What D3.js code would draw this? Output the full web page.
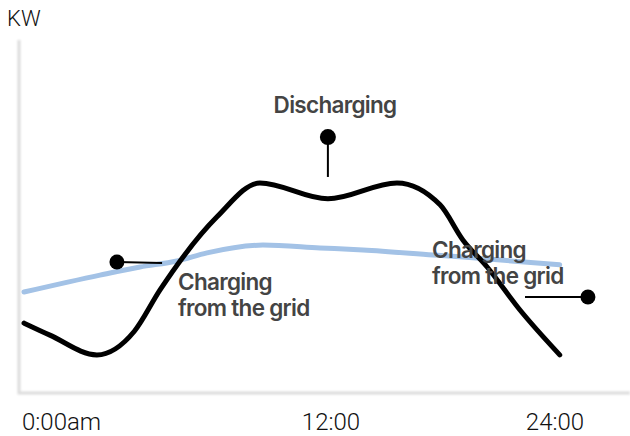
<!DOCTYPE html>
<html>
<head>
<meta charset="utf-8">
<script src="https://cdn.jsdelivr.net/npm/d3@7"></script>
<style>
  body { margin: 0; background: #fff; }
</style>
</head>
<body>
<div id="chart"></div>
<script>
// data (hours, kW)
const blackHours = [0, 1.01, 2.84, 4.3, 5.3, 7.52, 9.19, 11.84, 15.48, 17.79, 19.02, 20.31, 22.07, 24.2];
const blackValues = [1.98, 1.64, 1.08, 1.75, 2.92, 4.99, 5.95, 5.5, 5.95, 5.33, 4.33, 3.57, 2.35, 1.08];
const blueHours = [0, 2.96, 4.52, 5.96, 7.13, 9.31, 11.53, 13.66, 17.41, 19.02, 24.2];
const blueValues = [2.86, 3.34, 3.57, 3.74, 3.97, 4.19, 4.11, 4.05, 3.91, 3.85, 3.63];
const tickHours = [0, 12, 24];
const tickLabels = ["0:00am", "12:00", "24:00"];

// annotations: dot position, line end
const annoHours = [3.62, 11.84, 25.71];
const annoValues = [3.71, 7.25, 2.72];
const annoEndHours = [5.38, 11.84, 22.34];
const annoEndValues = [3.68, 6.12, 2.72];

const width = 630, height = 436;

const svg = d3.select("#chart")
  .append("svg")
    .attr("width", width)
    .attr("height", height);

const x = d3.scaleLinear()
  .domain([0, 12, 24])
  .range([24, 332, 556]);

const y = d3.scaleLinear()
  .domain([0, 10])
  .range([393, 40]);

// soft grey axes
const defs = svg.append("defs");
defs.append("filter")
    .attr("id", "soft")
  .append("feGaussianBlur")
    .attr("stdDeviation", 1.2);

svg.append("path")
    .attr("d", `M19,${y(10)}V${y(0)}H630`)
    .attr("fill", "none")
    .attr("stroke", "#dcdcdc")
    .attr("stroke-width", 3)
    .attr("filter", "url(#soft)");

// tick labels
svg.selectAll(".tick")
  .data(tickHours)
  .enter()
  .append("text")
    .attr("class", "tick")
    .attr("x", (d, i) => i === 0 ? x(d) - 2 : x(d) - 1)
    .attr("y", 430)
    .attr("text-anchor", (d, i) => i === 0 ? "start" : "middle")
    .attr("font-family", "Roboto")
    .attr("font-weight", 300)
    .attr("font-size", "24px")
    .attr("fill", "#111")
    .text((d, i) => tickLabels[i]);

svg.append("text")
    .attr("x", 7)
    .attr("y", 26)
    .attr("font-family", "Roboto")
    .attr("font-weight", 300)
    .attr("font-size", "22px")
    .attr("fill", "#111")
    .text("KW");

const line = d3.line()
  .x(d => x(d[0]))
  .y(d => y(d[1]))
  .curve(d3.curveMonotoneX);

svg.append("path")
    .datum(blueHours.map((h, i) => [h, blueValues[i]]))
    .attr("d", line)
    .attr("fill", "none")
    .attr("stroke", "#a3c2e6")
    .attr("stroke-width", 5)
    .attr("stroke-linecap", "round");

svg.append("path")
    .datum(blackHours.map((h, i) => [h, blackValues[i]]))
    .attr("d", line)
    .attr("fill", "none")
    .attr("stroke", "#000")
    .attr("stroke-width", 5)
    .attr("stroke-linecap", "round");

// annotation lines and dots
svg.selectAll(".anno-line")
  .data(annoHours)
  .enter()
  .append("line")
    .attr("x1", d => x(d))
    .attr("y1", (d, i) => y(annoValues[i]))
    .attr("x2", (d, i) => x(annoEndHours[i]))
    .attr("y2", (d, i) => y(annoEndValues[i]))
    .attr("stroke", "#000")
    .attr("stroke-width", 2);

svg.selectAll(".anno-dot")
  .data(annoHours)
  .enter()
  .append("circle")
    .attr("cx", d => x(d))
    .attr("cy", (d, i) => y(annoValues[i]))
    .attr("r", (d, i) => i === 1 ? 8 : 7.5)
    .attr("fill", "#000");

// labels
const labelStyle = t => t
  .attr("font-family", "Inter")
  .attr("font-weight", 600)
  .attr("font-size", "22.5px")
  .attr("letter-spacing", "-0.7px")
  .attr("fill", "#444");

svg.append("text")
    .attr("x", 335)
    .attr("y", 113)
    .attr("text-anchor", "middle")
    .call(labelStyle)
    .text("Discharging");

[[178, 290], [432, 258]].forEach(p => {
  const t = svg.append("text")
      .attr("x", p[0])
      .attr("y", p[1])
      .call(labelStyle);
  t.append("tspan").attr("x", p[0]).text("Charging");
  t.append("tspan").attr("x", p[0]).attr("dy", 26).text("from the grid");
});
</script>
</body>
</html>
